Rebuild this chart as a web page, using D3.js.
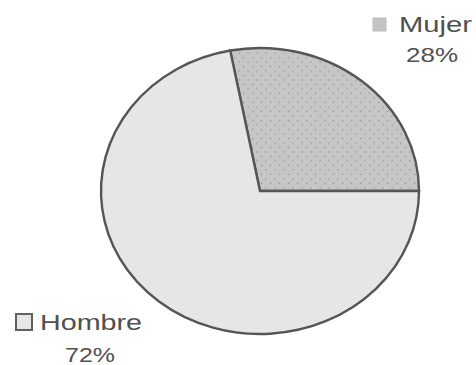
<!DOCTYPE html>
<html>
<head>
<meta charset="utf-8">
<script src="https://cdn.jsdelivr.net/npm/d3@7/dist/d3.min.js"></script>
<style>
  html, body { margin: 0; padding: 0; background: #fff; }
  svg { display: block; }
  text { font-family: "Liberation Sans", Arial, sans-serif; fill: #505050; }
</style>
</head>
<body>
<svg id="chart" width="476" height="365"></svg>
<script>
// Gender breakdown (percent)
const categories = ["Mujer", "Hombre"];
const values = [28, 72];
const valueLabels = ["28%", "72%"];

const W = 476, H = 365;
const cx = 260, cy = 191;
const rx = 159, ry = 143;

const svg = d3.select("#chart");
const defs = svg.append("defs");

// Dotted texture for the smaller slice
const pat = defs.append("pattern")
  .attr("id", "dots")
  .attr("patternUnits", "userSpaceOnUse")
  .attr("width", 9).attr("height", 10);
pat.append("rect").attr("width", 9).attr("height", 10).attr("fill", "#c6c6c6");
pat.append("rect").attr("x", 1).attr("y", 1).attr("width", 1.2).attr("height", 1.2).attr("fill", "#8a8a8a");
pat.append("rect").attr("x", 5.5).attr("y", 6).attr("width", 1.2).attr("height", 1.2).attr("fill", "#8a8a8a");

const fills = { "Mujer": "url(#dots)", "Hombre": "#e6e6e6" };

// The first slice ends at 3 o'clock; pie runs clockwise
const total = d3.sum(values);
const start = Math.PI / 2 - values[0] / total * 2 * Math.PI;
const pie = d3.pie().sort(null).value(d => d.v)
  .startAngle(start).endAngle(start + 2 * Math.PI);
const data = categories.map((c, i) => ({ c, v: values[i] }));
const arc = d3.arc().innerRadius(0).outerRadius(rx);

const g = svg.append("g")
  .attr("transform", `translate(${cx},${cy}) scale(1,${ry / rx})`);
g.selectAll("path")
  .data(pie(data))
  .join("path")
  .attr("d", arc)
  .attr("fill", d => fills[d.data.c])
  .attr("stroke", "#555")
  .attr("stroke-width", 2.4)
  .attr("stroke-linejoin", "miter")
  .attr("vector-effect", "non-scaling-stroke");

// Labels with legend keys
const labelSpec = {
  "Mujer":  { x: 399, y: 32, w: 73, px: 406, py: 62, pw: 52, sq: [373, 18, 13] },
  "Hombre": { x: 40, y: 330, w: 102, px: 65, py: 362, pw: 50, sq: [16, 314, 16] }
};
categories.forEach((c, i) => {
  const s = labelSpec[c];
  svg.append("rect")
    .attr("x", s.sq[0]).attr("y", s.sq[1])
    .attr("width", s.sq[2]).attr("height", s.sq[2])
    .attr("fill", c === "Mujer" ? "#c4c4c4" : "#e6e6e6")
    .attr("stroke", c === "Mujer" ? "#bdbdbd" : "#606060")
    .attr("stroke-width", c === "Mujer" ? 1 : 2);
  svg.append("text")
    .attr("x", s.x).attr("y", s.y)
    .attr("font-size", 22)
    .attr("textLength", s.w)
    .attr("lengthAdjust", "spacingAndGlyphs")
    .text(c);
  svg.append("text")
    .attr("x", s.px).attr("y", s.py)
    .attr("font-size", 21)
    .attr("textLength", s.pw)
    .attr("lengthAdjust", "spacingAndGlyphs")
    .text(valueLabels[i]);
});
</script>
</body>
</html>
